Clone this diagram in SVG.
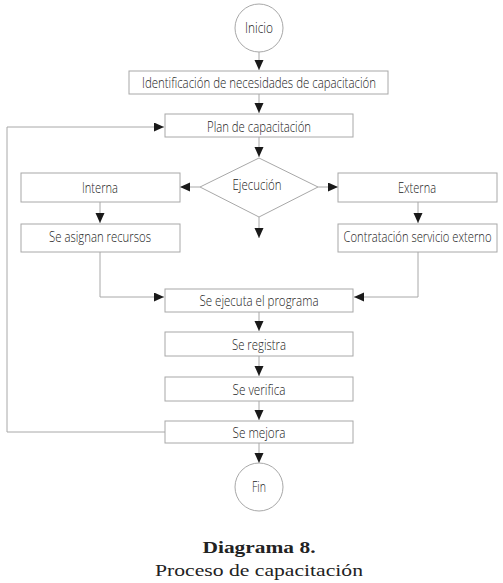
<svg xmlns="http://www.w3.org/2000/svg" width="503" height="583" viewBox="0 0 503 583">
<defs>
<marker id="ah" markerUnits="userSpaceOnUse" markerWidth="11" markerHeight="10" refX="10" refY="4.5" orient="auto">
<path d="M0,0 L10,4.5 L0,9 z" fill="#1a1a1a"/>
</marker>
<style>
.box{fill:#fff;stroke:#a8a8a8;stroke-width:1}
.t{font-family:"Open Sans","Liberation Sans",sans-serif;font-weight:300;font-size:14px;fill:#222;text-anchor:middle}
.c{fill:none;stroke:#a8a8a8;stroke-width:1;marker-end:url(#ah)}
.cap{font-family:"Liberation Serif",serif;fill:#222;text-anchor:middle}
</style>
</defs>
<rect width="503" height="583" fill="#fff"/>
<g id="connectors">
<line class="c" x1="259" y1="52" x2="259" y2="70"/>
<line class="c" x1="259" y1="94" x2="259" y2="113"/>
<line class="c" x1="259" y1="137" x2="259" y2="157"/>
<line class="c" x1="200" y1="187" x2="180" y2="187"/>
<line class="c" x1="318" y1="187" x2="338" y2="187"/>
<line class="c" x1="259" y1="217" x2="259" y2="238"/>
<line class="c" x1="100" y1="202" x2="100" y2="223"/>
<line class="c" x1="418" y1="202" x2="418" y2="223"/>
<polyline class="c" points="100,252 100,297 164,297"/>
<polyline class="c" points="418,252 418,297 354,297"/>
<line class="c" x1="259" y1="312" x2="259" y2="331"/>
<line class="c" x1="259" y1="356" x2="259" y2="376"/>
<line class="c" x1="259" y1="401" x2="259" y2="420"/>
<line class="c" x1="259" y1="443" x2="259" y2="463"/>
<polyline class="c" points="165,432 7,432 7,127 164,127"/>
</g>
<g id="inicio"><circle class="box" cx="259" cy="28" r="24"/><text class="t" x="259" y="33" textLength="28" lengthAdjust="spacingAndGlyphs">Inicio</text></g>
<g id="identificacion"><rect class="box" x="129" y="71" width="259" height="23"/><text class="t" x="259" y="88" textLength="234" lengthAdjust="spacingAndGlyphs">Identificación de necesidades de capacitación</text></g>
<g id="plan"><rect class="box" x="165" y="114" width="188" height="23"/><text class="t" x="259" y="132" textLength="104" lengthAdjust="spacingAndGlyphs">Plan de capacitación</text></g>
<g id="ejecucion"><polygon class="box" points="259,158 318,187 259,217 200,187"/><text class="t" x="257" y="190" textLength="49" lengthAdjust="spacingAndGlyphs">Ejecución</text></g>
<g id="interna"><rect class="box" x="21" y="173" width="159" height="29"/><text class="t" x="100" y="193" textLength="36" lengthAdjust="spacingAndGlyphs">Interna</text></g>
<g id="externa"><rect class="box" x="338" y="173" width="159" height="29"/><text class="t" x="417" y="193" textLength="38" lengthAdjust="spacingAndGlyphs">Externa</text></g>
<g id="asignan"><rect class="box" x="21" y="224" width="159" height="28"/><text class="t" x="100" y="242" textLength="102" lengthAdjust="spacingAndGlyphs">Se asignan recursos</text></g>
<g id="contratacion"><rect class="box" x="338" y="224" width="159" height="28"/><text class="t" x="417.5" y="242" textLength="148" lengthAdjust="spacingAndGlyphs">Contratación servicio externo</text></g>
<g id="ejecuta"><rect class="box" x="165" y="289" width="188" height="23"/><text class="t" x="259" y="306" textLength="119" lengthAdjust="spacingAndGlyphs">Se ejecuta el programa</text></g>
<g id="registra"><rect class="box" x="165" y="332" width="188" height="24"/><text class="t" x="259" y="350" textLength="54" lengthAdjust="spacingAndGlyphs">Se registra</text></g>
<g id="verifica"><rect class="box" x="165" y="377" width="188" height="24"/><text class="t" x="259" y="395" textLength="53" lengthAdjust="spacingAndGlyphs">Se verifica</text></g>
<g id="mejora"><rect class="box" x="165" y="421" width="188" height="22"/><text class="t" x="259" y="438" textLength="53" lengthAdjust="spacingAndGlyphs">Se mejora</text></g>
<g id="fin"><circle class="box" cx="259" cy="487" r="24"/><text class="t" x="259" y="492" textLength="14" lengthAdjust="spacingAndGlyphs">Fin</text></g>
<g id="caption">
<text class="cap" x="259" y="553" font-size="16" font-weight="bold" textLength="113" lengthAdjust="spacingAndGlyphs">Diagrama 8.</text>
<text class="cap" x="259" y="576" font-size="17" textLength="208" lengthAdjust="spacingAndGlyphs">Proceso de capacitación</text>
</g>
</svg>
